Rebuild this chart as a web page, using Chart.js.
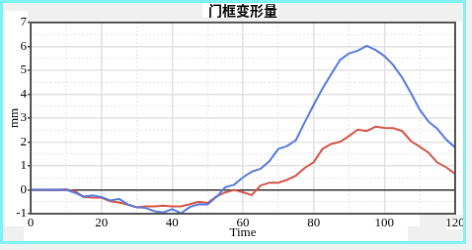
<!DOCTYPE html>
<html>
<head>
<meta charset="utf-8">
<script src="https://cdn.jsdelivr.net/npm/chart.js@4"></script>
<style>
  html, body { margin: 0; padding: 0; background: #f0f0f0; }
  #chart { display: block; border: 3px solid #7ff2f2; }
</style>
</head>
<body>
<canvas id="chart" width="466" height="244"></canvas>
<script>
// time axis, every 2.5 s
const times = [0, 2.5, 5, 7.5, 10, 12.5, 15, 17.5, 20, 22.5, 25, 27.5, 30, 32.5, 35, 37.5, 40, 42.5, 45, 47.5,
  50, 52.5, 55, 57.5, 60, 62.5, 65, 67.5, 70, 72.5, 75, 77.5, 80, 82.5, 85, 87.5, 90, 92.5, 95, 97.5,
  100, 102.5, 105, 107.5, 110, 112.5, 115, 117.5, 120];

const blueSeries = [0, 0, 0, 0, 0, -0.12, -0.29, -0.24, -0.3, -0.45, -0.38, -0.62, -0.73, -0.76, -0.9, -0.95,
  -0.81, -0.98, -0.72, -0.6, -0.61, -0.3, 0.11, 0.21, 0.52, 0.76, 0.88, 1.2, 1.71, 1.83, 2.08, 2.83,
  3.55, 4.24, 4.85, 5.44, 5.71, 5.82, 6.03, 5.85, 5.6, 5.22, 4.7, 4.05, 3.35, 2.85, 2.55, 2.1, 1.77];

const redSeries = [0, 0, 0, 0, 0.02, -0.06, -0.3, -0.33, -0.33, -0.48, -0.53, -0.62, -0.73, -0.69, -0.69, -0.66,
  -0.69, -0.69, -0.6, -0.5, -0.55, -0.28, -0.11, 0, -0.1, -0.22, 0.18, 0.3, 0.3, 0.42, 0.6, 0.92,
  1.15, 1.71, 1.92, 2.01, 2.25, 2.52, 2.46, 2.64, 2.59, 2.58, 2.46, 2.04, 1.8, 1.55, 1.14, 0.94, 0.67];

const xTicks = [0, 20, 40, 60, 80, 100, 120];
const yTicks = [-1, 0, 1, 2, 3, 4, 5, 6, 7];
const chartTitle = '门框变形量';

const serif = 'Liberation Serif';

// background patches, title (centred on the plot) and plot frame
const framePlugin = {
  id: 'frame',
  beforeDraw(chart) {
    const c = chart.ctx;
    c.save();
    c.fillStyle = '#f0f0f0';
    c.fillRect(0, 0, chart.width, chart.height);
    c.fillStyle = '#ffffff';
    c.fillRect(2, 8, 23, 221);
    c.fillRect(25, 19, 441, 198);
    c.fillRect(21, 216, 401, 13);
    c.fillRect(21, 229, 389, 15);
    c.fillRect(449, 221, 17, 11);
    c.fillRect(202, 0, 77, 15);
    c.restore();
  },
  afterDraw(chart) {
    const a = chart.chartArea;
    const c = chart.ctx;
    c.save();
    c.strokeStyle = '#555';
    c.lineWidth = 2;
    c.strokeRect(a.left, a.top, a.right - a.left, a.bottom - a.top);
    c.fillStyle = '#000';
    c.font = 'bold 14px "Noto Sans CJK SC"';
    c.textAlign = 'center';
    c.textBaseline = 'middle';
    c.fillText(chartTitle, (a.left + a.right) / 2, 8);
    c.restore();
  }
};

new Chart(document.getElementById('chart'), {
  type: 'line',
  data: {
    datasets: [{
      data: times.map((t, i) => ({ x: t, y: blueSeries[i] })),
      borderColor: 'rgb(84, 122, 222)',
      borderWidth: 2,
      pointRadius: 0,
      tension: 0
    }, {
      data: times.map((t, i) => ({ x: t, y: redSeries[i] })),
      borderColor: 'rgb(214, 84, 72)',
      borderWidth: 2,
      pointRadius: 0,
      tension: 0
    }]
  },
  options: {
    responsive: false,
    animation: false,
    layout: { padding: { left: 0, right: 8, top: 20, bottom: 0 } },
    plugins: {
      legend: { display: false },
      tooltip: { enabled: false },
      title: { display: false }
    },
    scales: {
      x: {
        type: 'linear',
        min: 0,
        max: 120,
        ticks: {
          stepSize: 10,
          autoSkip: false,
          maxRotation: 0,
          padding: 2,
          color: '#000',
          font: { family: serif, size: 13 },
          callback: v => xTicks.includes(v) ? String(v) : ''
        },
        grid: {
          drawTicks: false,
          color: ctx => ctx.tick && ctx.tick.value % 20 === 0 ? '#e2e2e2' : '#e6e6e6',
          lineWidth: ctx => ctx.tick && ctx.tick.value % 20 === 0 ? 1.5 : 1
        },
        border: {
          display: false,
          dash: ctx => ctx.tick && ctx.tick.value % 20 !== 0 ? [2, 2] : []
        },
        title: {
          display: true,
          text: 'Time',
          color: '#000',
          font: { family: serif, size: 13 },
          padding: { top: 0, bottom: 1 }
        },
        afterFit: s => { s.height = 28; s.paddingLeft = 0; s.paddingRight = 0; }
      },
      y: {
        min: -1,
        max: 7,
        ticks: {
          stepSize: 0.5,
          autoSkip: false,
          padding: 1,
          color: '#000',
          font: { family: serif, size: 13 },
          callback: v => yTicks.includes(v) ? String(v) : ''
        },
        grid: {
          drawTicks: true,
          tickLength: 3,
          tickColor: ctx => ctx.tick && Number.isInteger(ctx.tick.value) ? '#444' : 'rgba(0,0,0,0)',
          color: ctx => {
            if (!ctx.tick) return '#e2e2e2';
            if (ctx.tick.value === 0) return '#333';
            return Number.isInteger(ctx.tick.value) ? '#e2e2e2' : '#e6e6e6';
          },
          lineWidth: ctx => ctx.tick && Number.isInteger(ctx.tick.value) ? 1.5 : 1
        },
        border: {
          display: false,
          dash: ctx => ctx.tick && !Number.isInteger(ctx.tick.value) ? [2, 2] : []
        },
        title: {
          display: true,
          text: 'mm',
          color: '#000',
          font: { family: serif, size: 13 },
          padding: { top: 4, bottom: 0 }
        },
        afterFit: s => { s.width = 28; s.paddingTop = 0; s.paddingBottom = 0; }
      }
    }
  },
  plugins: [framePlugin]
});
</script>
</body>
</html>
